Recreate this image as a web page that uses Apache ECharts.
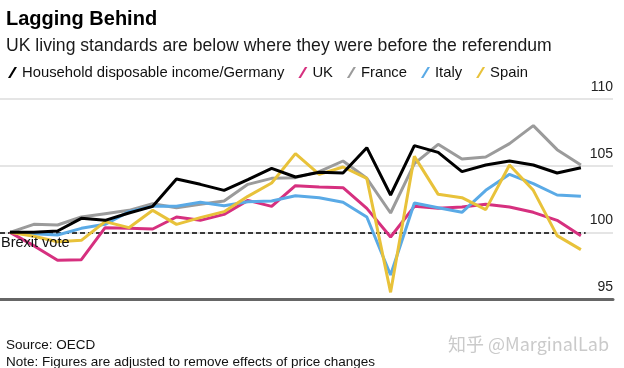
<!DOCTYPE html>
<html>
<head>
<meta charset="utf-8">
<script src="https://cdn.jsdelivr.net/npm/echarts@6/dist/echarts.min.js"></script>
<style>
html,body{margin:0;padding:0;background:#fff;}
#chart{width:624px;height:368px;}
</style>
</head>
<body>
<div id="chart"></div>
<script>
// Quarters (2016 Q2 = Brexit vote = 100)
const quarters = ['2016Q2','2016Q3','2016Q4','2017Q1','2017Q2','2017Q3','2017Q4','2018Q1','2018Q2','2018Q3','2018Q4','2019Q1','2019Q2','2019Q3','2019Q4','2020Q1','2020Q2','2020Q3','2020Q4','2021Q1','2021Q2','2021Q3','2021Q4','2022Q1','2022Q2'];
const seriesNames = ['Household disposable income/Germany','UK','France','Italy','Spain'];
const germany = [100, 100.0, 100.1, 101.05, 100.9, 101.45, 101.95, 104.0, 103.6, 103.15, 103.95, 104.8, 104.15, 104.5, 104.45, 106.35, 102.8, 106.5, 106.0, 104.55, 105.05, 105.35, 105.05, 104.45, 104.85];
const uk      = [100, 99.0, 97.9, 97.95, 100.35, 100.3, 100.25, 101.15, 100.9, 101.35, 102.4, 101.95, 103.5, 103.4, 103.35, 101.8, 99.65, 101.95, 101.8, 101.9, 102.1, 101.9, 101.5, 100.9, 99.75];
const france  = [100, 100.6, 100.55, 101.15, 101.4, 101.65, 102.15, 101.85, 102.1, 102.35, 103.6, 104.05, 104.1, 104.55, 105.35, 104.05, 101.45, 105.15, 106.6, 105.5, 105.65, 106.65, 108.0, 106.2, 105.05];
const italy   = [100, 99.9, 99.8, 100.3, 100.6, 101.55, 101.95, 101.95, 102.25, 102.0, 102.3, 102.35, 102.75, 102.6, 102.25, 101.15, 96.8, 102.2, 101.85, 101.5, 103.15, 104.35, 103.65, 102.8, 102.7];
const spain   = [100, 99.7, 99.3, 99.4, 100.8, 100.35, 101.65, 100.6, 101.1, 101.55, 102.7, 103.7, 105.9, 104.35, 104.9, 104.05, 95.5, 105.7, 102.85, 102.6, 101.7, 105.05, 103.15, 99.75, 98.7];
const yTicks = [95, 100, 105, 110];
const baseline = 100;

const colors = ['#000000', '#d6307f', '#9b9b9b', '#5aaae6', '#e8c23a'];
const allData = [germany, uk, france, italy, spain];
const FONT = '"Liberation Sans", Arial, sans-serif';

const chart = echarts.init(document.getElementById('chart'), null, {renderer: 'canvas'});

const series = seriesNames.map((name, k) => ({
  name: name,
  type: 'line',
  data: allData[k].map((v, i) => [i, v]),
  showSymbol: false,
  symbol: 'none',
  lineStyle: {color: colors[k], width: 3},
  itemStyle: {color: colors[k]},
  z: [6, 4, 3, 4, 5][k],
  silent: true,
  animation: false
}));

series[0].markLine = {
  silent: true,
  symbol: 'none',
  label: {show: false},
  lineStyle: {color: '#000', type: [5, 3], width: 1.5},
  data: [[{coord: [-0.42, baseline]}, {coord: [24.2, baseline]}]],
  z: 2
};

const option = {
  backgroundColor: '#fff',
  animation: false,
  title: [
    {text: 'Lagging Behind', left: 1, top: 4, textStyle: {fontFamily: FONT, fontSize: 20, fontWeight: 'bold', color: '#000'}},
    {text: 'UK living standards are below where they were before the referendum', left: 1, top: 32, textStyle: {fontFamily: FONT, fontSize: 17.6, fontWeight: 'normal', color: '#1a1a1a'}},
    {text: 'Source: OECD', left: 1, top: 333, textStyle: {fontFamily: FONT, fontSize: 13.5, fontWeight: 'normal', color: '#111'}},
    {text: 'Note: Figures are adjusted to remove effects of price changes', left: 1, top: 350, textStyle: {fontFamily: FONT, fontSize: 13.5, fontWeight: 'normal', color: '#111'}},
    {text: '知乎 @MarginalLab', right: 10, top: 330, textStyle: {fontFamily: '"Noto Sans CJK SC", sans-serif', fontSize: 18, fontWeight: 'normal', color: '#cacaca'}}
  ],
  legend: {
    data: seriesNames,
    left: 3,
    top: 60,
    icon: 'path://M0,11L2.4,11L9,0L6.6,0Z',
    itemWidth: 9,
    itemHeight: 11,
    itemGap: 14,
    textStyle: {fontFamily: FONT, fontSize: 14.8, color: '#111'},
    selectedMode: false
  },
  grid: {left: 0, right: 11, top: 99, bottom: 69, containLabel: false},
  xAxis: {
    type: 'value',
    min: -0.42,
    max: 25.35,
    axisLine: {show: true, lineStyle: {color: '#666', width: 3}},
    axisTick: {show: false},
    axisLabel: {show: false},
    splitLine: {show: false}
  },
  yAxis: {
    type: 'value',
    position: 'right',
    min: yTicks[0],
    max: yTicks[yTicks.length - 1],
    interval: 5,
    axisLine: {show: false},
    axisTick: {show: false},
    splitLine: {show: true, lineStyle: {color: '#dcdcdc', width: 1.5}},
    axisLabel: {
      inside: true,
      margin: 0,
      verticalAlign: 'bottom',
      padding: [0, 0, 5, 0],
      fontFamily: FONT,
      fontSize: 14,
      color: '#222'
    }
  },
  graphic: [
    {type: 'text', left: 1, top: 235, style: {text: 'Brexit vote', font: '14.5px "Liberation Sans", Arial, sans-serif', fill: '#111'}, z: 10}
  ],
  series: series
};
chart.setOption(option);
</script>
</body>
</html>
